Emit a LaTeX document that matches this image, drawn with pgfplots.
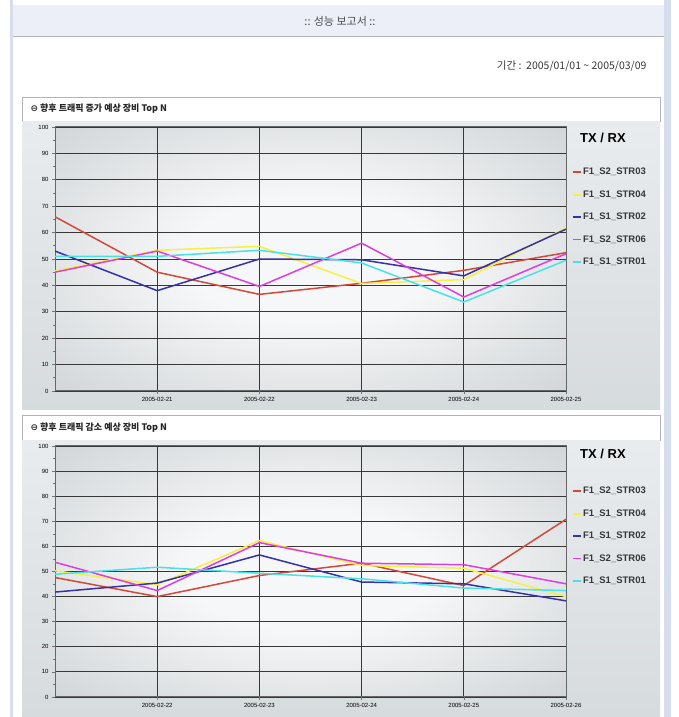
\documentclass[border=0pt]{standalone}
\usepackage{fontspec}
\setmainfont{Liberation Sans}
\newfontfamily\kr{Noto Sans CJK KR}
\newfontfamily\sym{DejaVu Sans}
\usepackage{pgfplots}
\pgfplotsset{compat=1.18}

\definecolor{sRed}{RGB}{212,72,58}
\definecolor{sYel}{RGB}{246,240,64}
\definecolor{sBlu}{RGB}{52,50,168}
\definecolor{sMag}{RGB}{222,62,222}
\definecolor{sCya}{RGB}{72,226,230}
\definecolor{pgcenter}{RGB}{246,247,248}
\definecolor{pgedge}{RGB}{200,205,208}
\definecolor{panelTop}{RGB}{233,236,238}
\definecolor{panelBot}{RGB}{214,219,222}
\definecolor{headBand}{RGB}{236,239,248}
\definecolor{frameBlue}{RGB}{214,222,238}
\definecolor{boxLine}{RGB}{178,180,184}
\definecolor{txtGrey}{RGB}{55,55,55}

\pgfdeclareradialshading{plotglow}{\pgfpoint{0bp}{0bp}}{%
  color(0bp)=(pgcenter); color(12bp)=(pgcenter);
  color(42bp)=(pgedge); color(50bp)=(pgedge)}

% daily values per device: x = day index, one column per device
\pgfplotstableread{
x  s03   s04   s02   s06   s01
0  66.0  45.5  53.0  45.0  51.0
1  45.0  53.3  38.0  53.0  51.0
2  36.6  54.8  50.0  39.6  53.3
3  40.8  40.7  49.7  56.0  48.5
4  45.7  42.2  43.6  35.6  33.7
5  52.4  61.8  61.3  52.0  49.5
}\upTable

\pgfplotstableread{
x  s03   s04   s02   s06   s01
0  47.6  50.3  41.8  53.7  48.9
1  40.0  44.7  45.4  42.4  51.7
2  48.4  62.3  56.6  61.5  49.3
3  53.3  52.4  45.8  53.3  47.1
4  44.4  51.3  45.1  52.7  43.4
5  70.8  40.0  38.3  45.1  42.4
}\downTable

\pgfplotsset{
  report/.style={
    scale only axis, width=511pt,
    xmin=0, xmax=5, ymin=0, ymax=100,
    xtick={1,...,5}, ytick={0,10,...,100}, minor y tick num=1,
    tick pos=left, tick align=outside,
    major tick length=3pt, minor tick length=2pt,
    tick style={black!55, line width=0.6pt},
    grid=major, major grid style={black!78, line width=0.8pt},
    axis line style={black!60, line width=1pt},
    tick label style={font=\fontsize{6}{7}\selectfont, text=black},
    /pgf/number format/assume math mode=true,
    clip mode=individual,
    axis background/.style={shade, shading=plotglow},
    every axis plot/.append style={line width=1.5pt, no marks},
    legend style={at={(1,1)}, anchor=north west, xshift=5pt, yshift=-39pt,
      draw=none, fill=none, font=\fontsize{9.5}{11}\selectfont\bfseries,
      text=txtGrey, row sep=12.3pt, inner sep=1pt,
      nodes={inner sep=1pt}},
    legend cell align=left,
    legend image code/.code={\draw[##1, line width=1.8pt] (0pt,0pt) -- (8pt,0pt);},
  }
}

\begin{document}
\begin{tikzpicture}[x=1pt, y=1pt]
  \useasboundingbox (0,0) rectangle (679,717);
  \fill[white] (0,0) rectangle (679,717);
  % page frame and header band
  \fill[frameBlue] (10,0) rectangle (13,717);
  \fill[frameBlue] (664,0) rectangle (671,717);
  \fill[headBand] (13,681) rectangle (664,712);
  \draw[boxLine, line width=0.8pt] (13,681) -- (664,681);
  \node[font=\kr\fontsize{11}{13}\selectfont, text=black!70] at (340,696) {:: 성능 보고서 ::};
  \node[font=\kr\fontsize{10.5}{12}\selectfont, text=txtGrey, anchor=east] at (650,651)
    {기간 :\ \ 2005/01/01 \textasciitilde\ 2005/03/09};

  % section headers and chart panels
  \draw[boxLine, fill=white, line width=0.8pt] (22,596) rectangle (660,620);
  \node[anchor=west, font=\kr\bfseries\fontsize{9}{10}\selectfont, text=black!85] at (27,608)
    {{\sym ⊖} 향후 트래픽 증가 예상 장비 Top N};
  \shade[top color=panelTop, bottom color=panelBot] (22,307) rectangle (660,595);

  \draw[boxLine, fill=white, line width=0.8pt] (22,277) rectangle (660,302);
  \node[anchor=west, font=\kr\bfseries\fontsize{9}{10}\selectfont, text=black!85] at (27,289.5)
    {{\sym ⊖} 향후 트래픽 감소 예상 장비 Top N};
  \shade[top color=panelTop, bottom color=panelBot] (22,0) rectangle (660,276);

  % upper chart
  \begin{axis}[report, at={(55pt,326pt)}, anchor=south west, height=264pt,
      xticklabels={2005-02-21,2005-02-22,2005-02-23,2005-02-24,2005-02-25}]
    \addplot[sRed] table[x=x, y=s03] {\upTable};
    \addplot[sYel] table[x=x, y=s04] {\upTable};
    \addplot[sBlu] table[x=x, y=s02] {\upTable};
    \addplot[sMag] table[x=x, y=s06] {\upTable};
    \addplot[sCya] table[x=x, y=s01] {\upTable};
    \legend{F1\_S2\_STR03, F1\_S1\_STR04, F1\_S1\_STR02, F1\_S2\_STR06, F1\_S1\_STR01}
    \node[font=\fontsize{13}{15}\selectfont\bfseries, anchor=center]
      at ([xshift=37pt, yshift=-11pt]axis description cs:1,1) {TX / RX};
  \end{axis}

  % lower chart
  \begin{axis}[report, at={(55pt,20pt)}, anchor=south west, height=251pt,
      xticklabels={2005-02-22,2005-02-23,2005-02-24,2005-02-25,2005-02-26}]
    \addplot[sRed] table[x=x, y=s03] {\downTable};
    \addplot[sYel] table[x=x, y=s04] {\downTable};
    \addplot[sBlu] table[x=x, y=s02] {\downTable};
    \addplot[sMag] table[x=x, y=s06] {\downTable};
    \addplot[sCya] table[x=x, y=s01] {\downTable};
    \legend{F1\_S2\_STR03, F1\_S1\_STR04, F1\_S1\_STR02, F1\_S2\_STR06, F1\_S1\_STR01}
    \node[font=\fontsize{13}{15}\selectfont\bfseries, anchor=center]
      at ([xshift=37pt, yshift=-8pt]axis description cs:1,1) {TX / RX};
  \end{axis}
\end{tikzpicture}
\end{document}
